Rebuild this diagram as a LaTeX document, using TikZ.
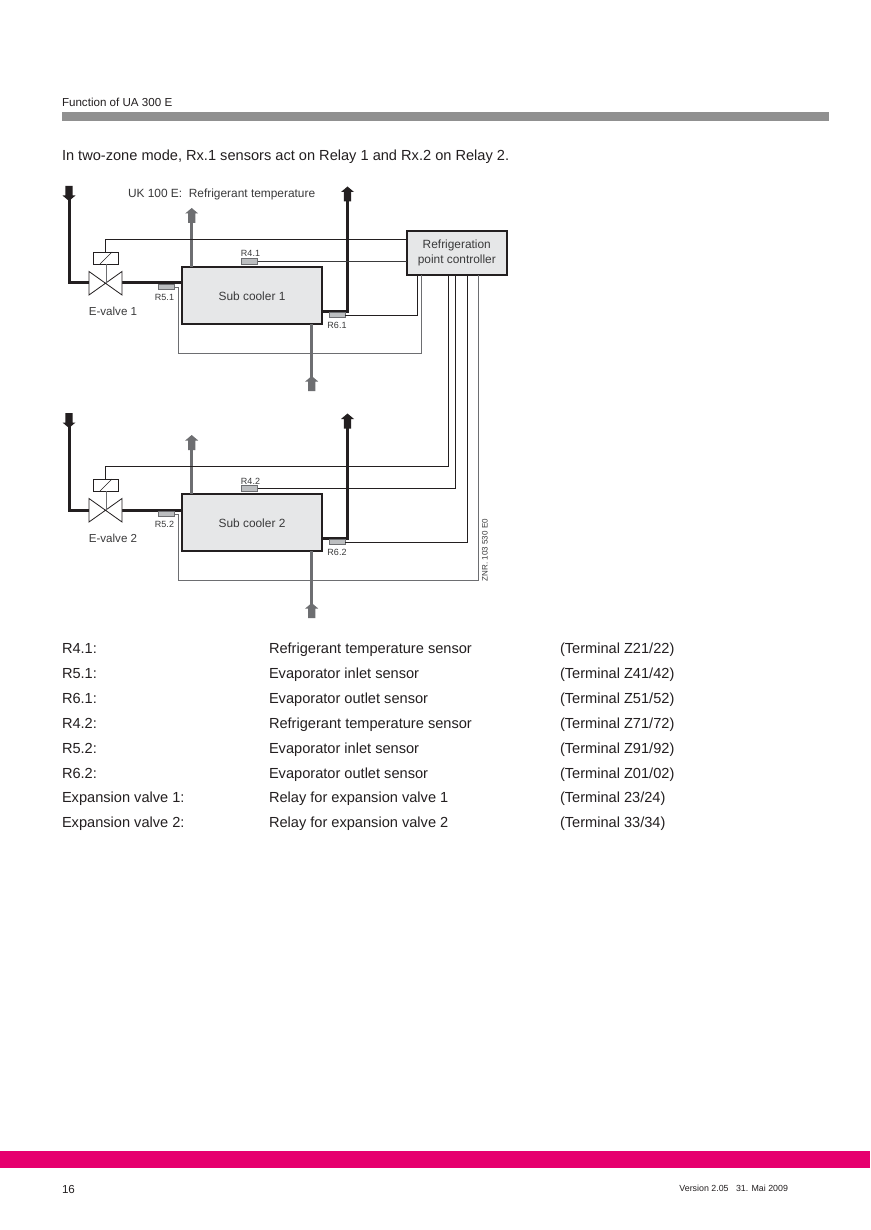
\documentclass[tikz,border=0pt]{standalone}
\usepackage{fontspec}
\setmainfont{Liberation Sans}
\definecolor{pipedark}{HTML}{231F20}
\definecolor{pipegrey}{HTML}{6D6E71}
\definecolor{boxfill}{HTML}{E6E7E8}
\definecolor{sensfill}{HTML}{BCBEC0}
\definecolor{barcol}{HTML}{909090}
\definecolor{bandcol}{HTML}{E6006E}
\definecolor{txt}{HTML}{231F20}
\definecolor{lbl}{HTML}{3A3A3B}
\tikzset{
  every node/.style={inner sep=0pt,outer sep=0pt,text=txt},
  boxnode/.style={draw=pipedark,line width=1.6pt,fill=boxfill,anchor=north west,align=center},
  sensor/.style={draw=pipegrey,line width=0.7pt,fill=sensfill,minimum width=16pt,minimum height=5.5pt},
  sensorlabel/.style={font=\fontsize{9pt}{10pt}\selectfont,text=lbl},
  diaglabel/.style={font=\fontsize{11.9pt}{13pt}\selectfont,text=lbl},
  pagetext/.style={font=\fontsize{14.6pt}{16pt}\selectfont,anchor=base west},
  wire/.style={draw=pipedark,line width=0.8pt},
  wiregrey/.style={draw=pipegrey,line width=0.9pt},
  pipe/.style={draw=pipedark,line width=3pt},
  pipeg/.style={draw=pipegrey,line width=3pt},
  valve/.style={draw=pipedark,line width=0.8pt,fill=white},
}
% arrow shape: tip at (#1,#2), direction #3 (+1 down, -1 up), colour #4
\newcommand{\fatarrow}[4]{%
  \fill[#4] (#1,#2) -- (#1-6.5,#2-#3*5.5) -- (#1-3.6,#2-#3*5.5) -- (#1-3.6,#2-#3*15) -- (#1+3.6,#2-#3*15) -- (#1+3.6,#2-#3*5.5) -- (#1+6.5,#2-#3*5.5) -- cycle;}
\newcommand{\zone}[1]{%
  \coordinate (in#1) at (69,195);
  \coordinate (vc#1) at (106,283);
  \coordinate (outT#1) at (347.5,198);
  \coordinate (outB#1) at (322,311);
  \node[boxnode,minimum width=140pt,minimum height=57pt] (cool#1) at (182,267) {};
  \node[diaglabel] (coolt#1) at (252,296) {Sub cooler #1};
  \draw[pipe,line join=miter] (in#1) -- (vc#1 -| in#1) -- (89,283);
  \draw[pipe] (122,283) -- (cool#1.west |- vc#1);
  \draw[pipe,line join=miter] (cool#1.east |- outB#1) -- (outB#1 -| outT#1) -- (outT#1);
  \draw[pipeg] (191.7,218) -- (191.7,267);
  \draw[pipeg] (311.7,324) -- (311.7,382);
  \fatarrow{69}{201}{1}{pipedark}
  \fatarrow{347.5}{186.5}{-1}{pipedark}
  \fatarrow{191.7}{208}{-1}{pipegrey}
  \fatarrow{311.7}{376}{-1}{pipegrey}
  \draw[valve,line join=miter] (89,271.5) -- (122,295) -- (122,271.5) -- (89,295) -- cycle;
  \node[draw=pipedark,line width=0.7pt,fill=white,minimum width=25pt,minimum height=12pt] (act#1) at (106,258) {};
  \draw[line width=0.7pt,draw=pipedark] (100,264) -- (112,252);
  \draw[line width=0.7pt,draw=pipegrey] (act#1.south) -- (vc#1);
  \node[diaglabel,font=\fontsize{11.6pt}{13pt}\selectfont] (vl#1) at (113,311) {E-valve #1};
  \node[sensor] (Rf#1) at (249.5,261.5) {};
  \node[sensorlabel,anchor=south] at (250.5,257) {R4.#1};
  \node[sensor] (Ri#1) at (166,287) {};
  \node[sensorlabel] at (164.5,297) {R5.#1};
  \node[sensor] (Ro#1) at (337,315) {};
  \node[sensorlabel] at (337,325.5) {R6.#1};
}
\begin{document}
\begin{tikzpicture}[x=1pt,y=-1pt]
\useasboundingbox (0,0) rectangle (870,1230);
\fill[white] (0,0) rectangle (870,1230);
\node[anchor=base west,font=\fontsize{11.6pt}{13pt}\selectfont] (hd) at (62,106.5) {Function of UA 300 E};
\fill[barcol] (62,112) rectangle (829,121);
\node[pagetext] (intro) at (62,160.5) {In two-zone mode, Rx.1 sensors act on Relay 1 and Rx.2 on Relay 2.};
\zone{1}
\begin{scope}[shift={(0,227)}]
\zone{2}
\end{scope}
\node[diaglabel,anchor=base west] (uk) at (128,198) {UK 100 E:\ \ Refrigerant temperature};
\node[boxnode,minimum width=100pt,minimum height=44pt] (ctrl) at (406.8,231) {};
\node[align=center,font=\fontsize{11.9pt}{14.5pt}\selectfont,text=lbl] (ctrlt) at (456.8,253) {Refrigeration\\point controller};
\draw[wire] (act1.north -| 105,0) -- (105,239) -- (ctrl.west |- 0,239);
\draw[wire,draw=lbl] (Rf1.east) -- (Rf1.east -| ctrl.west);
\coordinate (b1) at (417.7,275);\coordinate (b2) at (421.7,275);
\coordinate (b3) at (448,275);\coordinate (b4) at (455,275);
\coordinate (b5) at (467.7,275);\coordinate (b6) at (478.7,275);
\draw[wire] (Ro1.east) -- (Ro1.east -| b1) -- (b1);
\draw[wiregrey] (Ri1.east) -- (178,287) -- (178,353) -| (b2);
\draw[wire] (act2.north -| 105,0) -- (105,466) -| (b3);
\draw[wire] (Rf2.east) -| (b4);
\draw[wire] (Ro2.east) -| (b5);
\draw[wiregrey] (Ri2.east) -- (178,514) -- (178,580) -| (b6);
\node[rotate=90,anchor=west,font=\fontsize{8pt}{9pt}\selectfont,text=lbl] (znr) at (484.8,581) {ZNR. 103 530 E0};
\foreach \n/\ka/\kb/\kc in {0/R4.1:/Refrigerant temperature sensor/(Terminal Z21\slash 22),
 1/R5.1:/Evaporator inlet sensor/(Terminal Z41\slash 42),
 2/R6.1:/Evaporator outlet sensor/(Terminal Z51\slash 52),
 3/R4.2:/Refrigerant temperature sensor/(Terminal Z71\slash 72),
 4/R5.2:/Evaporator inlet sensor/(Terminal Z91\slash 92),
 5/R6.2:/Evaporator outlet sensor/(Terminal Z01\slash 02),
 6/Expansion valve 1:/Relay for expansion valve 1/(Terminal 23\slash 24),
 7/Expansion valve 2:/Relay for expansion valve 2/(Terminal 33\slash 34)}{
  \node[pagetext] (ta\n) at (62,653.5+\n*24.9) {\ka};
  \node[pagetext] (tb\n) at (269,653.5+\n*24.9) {\kb};
  \node[pagetext] (tc\n) at (560,653.5+\n*24.9) {\kc};
}
\fill[bandcol] (0,1151) rectangle (870,1168);
\node[anchor=base west,font=\fontsize{11.6pt}{13pt}\selectfont] (pg) at (62,1193.5) {16};
\node[anchor=base east,font=\fontsize{8.85pt}{10pt}\selectfont] (ver) at (788,1191) {Version 2.05\ \ \ 31. Mai 2009};
\end{tikzpicture}
\end{document}
